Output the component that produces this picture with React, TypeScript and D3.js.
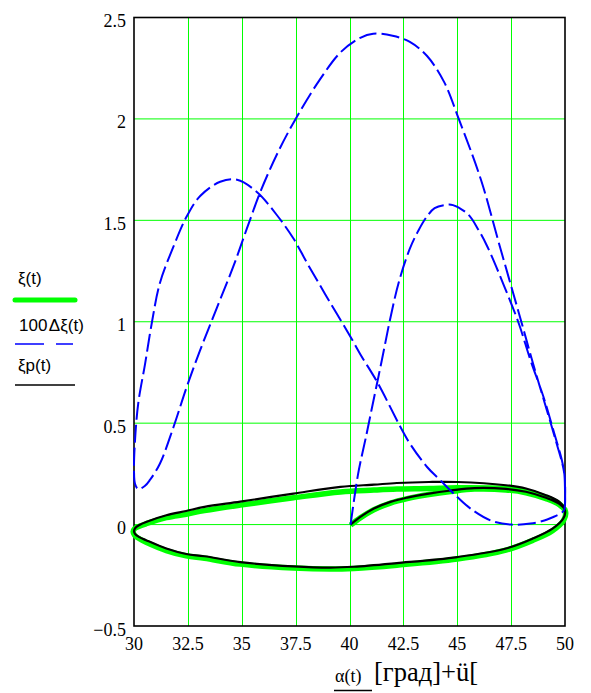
import React, { useRef, useEffect } from 'react';
import * as d3 from 'd3';

// axis ticks
const xTicks = [30, 32.5, 35, 37.5, 40, 42.5, 45, 47.5, 50];
const yTicks = [-0.5, 0, 0.5, 1, 1.5, 2, 2.5];

// ξ(t) against α(t), green
const xiPoints: [number, number][] = [
  [40.05, -0.003], [40.5, 0.033], [41.13, 0.073], [41.9, 0.106], [42.68, 0.128], [43.69, 0.148],
  [44.7, 0.163], [45.8, 0.175], [47.26, 0.171], [48.19, 0.157], [49.12, 0.128], [49.74, 0.098], [50.02, 0.066],
  [49.94, 0.022], [49.42, -0.03], [48.5, -0.078], [47.26, -0.126], [45.0, -0.17], [42.2, -0.2], [40.2, -0.216],
  [39.1, -0.219], [37.4, -0.214], [34.93, -0.195], [33.27, -0.166], [32.42, -0.154], [31.5, -0.128],
  [30.56, -0.087], [30.25, -0.07], [30.03, -0.053], [29.96, -0.035],
  [30.03, -0.02], [30.25, -0.008], [30.56, 0.004], [31.5, 0.034], [32.42, 0.051], [33.27, 0.069], [34.93, 0.096],
  [37.4, 0.132], [39.58, 0.161], [41.13, 0.17], [42.2, 0.175], [43.69, 0.178], [45.0, 0.182], [47.26, 0.178],
  [48.19, 0.165], [49.12, 0.135], [49.74, 0.102], [50.02, 0.07],
];

// ξp(t), black
const xiPPoints: [number, number][] = [
  [40.05, 0.0], [40.5, 0.038], [41.13, 0.079], [41.9, 0.112], [42.68, 0.133], [43.69, 0.153], [44.7, 0.168],
  [45.8, 0.18], [47.26, 0.176], [48.19, 0.162], [49.12, 0.132], [49.74, 0.102], [50.0, 0.07],
  [49.92, 0.03], [49.42, -0.02], [48.5, -0.069], [47.26, -0.118], [45.0, -0.16], [42.2, -0.19], [40.2, -0.208],
  [39.1, -0.212], [37.4, -0.206], [34.93, -0.185], [33.27, -0.156], [32.42, -0.145], [31.5, -0.118],
  [30.56, -0.077], [30.25, -0.062], [30.06, -0.048], [30.0, -0.033],
  [30.06, -0.017], [30.25, -0.002], [30.56, 0.013], [31.5, 0.046], [32.42, 0.067], [33.27, 0.087], [34.93, 0.113],
  [37.4, 0.153], [39.58, 0.186], [41.13, 0.197], [42.2, 0.205], [43.69, 0.21], [45.0, 0.21], [47.26, 0.194],
  [48.19, 0.178], [49.12, 0.145], [49.74, 0.112], [50.0, 0.079],
];

// 100Δξ(t), blue dashed
const dXiPoints: [number, number][] = [
  [40.05, 0.0], [40.4, 0.25], [40.8, 0.45], [41.05, 0.58], [41.5, 0.81], [41.9, 1.02], [42.3, 1.2], [42.8, 1.36],
  [43.2, 1.45], [43.6, 1.52], [43.95, 1.56], [44.4, 1.575], [44.8, 1.575], [45.5, 1.53], [46.0, 1.45], [46.4, 1.37],
  [47.2, 1.17], [47.86, 0.99], [48.4, 0.81], [49.0, 0.63], [49.5, 0.45], [49.85, 0.32], [49.97, 0.25], [50.0, 0.17],
  [50.0, 0.1],
  [49.95, 0.07], [49.8, 0.055], [49.4, 0.035], [49.04, 0.02], [48.4, 0.005], [47.5, 0.0], [46.56, 0.02], [45.6, 0.08],
  [45.0, 0.136], [44.2, 0.22], [43.6, 0.284], [42.8, 0.4], [42.37, 0.48], [41.3, 0.7], [40.5, 0.84], [40.05, 0.925],
  [38.96, 1.12], [38.03, 1.29], [37.4, 1.41], [36.6, 1.53], [35.7, 1.64], [34.78, 1.7], [34.0, 1.69], [33.07, 1.62],
  [32.45, 1.52], [31.83, 1.37], [31.2, 1.19], [30.82, 0.99], [30.51, 0.79], [30.2, 0.6], [30.05, 0.42], [30.0, 0.27],
  [30.05, 0.2], [30.2, 0.175], [30.5, 0.19], [30.74, 0.22], [31.2, 0.3], [31.83, 0.48], [32.45, 0.68], [33.07, 0.86],
  [33.85, 1.07], [34.6, 1.27], [35.24, 1.46], [35.9, 1.65], [36.7, 1.84], [37.5, 2.0], [38.6, 2.19], [39.6, 2.33],
  [40.5, 2.40], [41.1, 2.42], [42.0, 2.41], [42.8, 2.38], [43.6, 2.31], [44.4, 2.18], [45.07, 2.0], [46.1, 1.7],
  [46.98, 1.37], [48.0, 0.99], [48.5, 0.8], [49.0, 0.62], [49.5, 0.44], [49.97, 0.25], [50.0, 0.12],
];

const SERIF = '"Liberation Serif", "Times New Roman", serif';
const SANS = '"Liberation Sans", Arial, sans-serif';

const App = () => {
  const ref = useRef<SVGSVGElement>(null);

  useEffect(() => {
    const svg = d3.select(ref.current);
    svg.selectAll('*').remove();

    const x = d3.scaleLinear().domain([30, 50]).range([134, 565]);
    const y = d3.scaleLinear().domain([-0.5, 2.5]).range([626, 17.5]);

    const g = svg.append('g');

    // grid
    g.selectAll('.vgrid')
      .data(xTicks.slice(1, -1))
      .enter().append('line')
      .attr('x1', d => Math.round(x(d)) + 0.5).attr('x2', d => Math.round(x(d)) + 0.5)
      .attr('y1', y(2.5)).attr('y2', y(-0.5))
      .attr('stroke', '#00ff00').attr('stroke-width', 1);
    g.selectAll('.hgrid')
      .data(yTicks.slice(1, -1))
      .enter().append('line')
      .attr('x1', x(30)).attr('x2', x(50))
      .attr('y1', d => y(d)).attr('y2', d => y(d))
      .attr('stroke', '#00ff00').attr('stroke-width', 1);

    // frame
    g.append('rect')
      .attr('x', x(30)).attr('y', y(2.5))
      .attr('width', x(50) - x(30)).attr('height', y(-0.5) - y(2.5))
      .attr('fill', 'none').attr('stroke', '#000').attr('stroke-width', 1.6);

    // tick labels
    g.selectAll('.xl')
      .data(xTicks)
      .enter().append('text')
      .attr('x', d => x(d)).attr('y', 649.5)
      .attr('text-anchor', 'middle')
      .attr('font-family', SERIF).attr('font-size', 18)
      .text(d => String(d));
    g.selectAll('.yl')
      .data(yTicks)
      .enter().append('text')
      .attr('x', 126).attr('y', d => y(d) + 9.5)
      .attr('text-anchor', 'end')
      .attr('font-family', SERIF).attr('font-size', 18)
      .text(d => (d < 0 ? '\u2212' + String(-d) : String(d)));

    const line = d3.line<[number, number]>()
      .x(d => x(d[0]))
      .y(d => y(d[1]))
      .curve(d3.curveCatmullRom.alpha(0.5));

    g.append('path').datum(xiPoints)
      .attr('d', line).attr('fill', 'none')
      .attr('stroke', '#00ff00').attr('stroke-width', 5.5).attr('stroke-linejoin', 'round');
    g.append('path').datum(xiPPoints)
      .attr('d', line).attr('fill', 'none')
      .attr('stroke', '#000').attr('stroke-width', 2.2).attr('stroke-linejoin', 'round');
    g.append('path').datum(dXiPoints)
      .attr('d', line).attr('fill', 'none')
      .attr('stroke', '#0000ff').attr('stroke-width', 2)
      .attr('stroke-dasharray', '18,5');

    // legend
    const lg = svg.append('g').attr('font-family', SANS).attr('font-size', 17);
    lg.append('text').attr('x', 18).attr('y', 284).text('ξ(t)');
    lg.append('line').attr('x1', 15).attr('x2', 75).attr('y1', 300).attr('y2', 300)
      .attr('stroke', '#00ff00').attr('stroke-width', 5).attr('stroke-linecap', 'round');
    lg.append('text').attr('x', 19).attr('y', 331).text('100\u200aΔξ(t)');
    lg.append('line').attr('x1', 15).attr('x2', 73).attr('y1', 344).attr('y2', 344)
      .attr('stroke', '#0000ff').attr('stroke-width', 1.5).attr('stroke-dasharray', '29,12');
    lg.append('text').attr('x', 18).attr('y', 371).text('ξp(t)');
    lg.append('line').attr('x1', 15).attr('x2', 75).attr('y1', 385).attr('y2', 385)
      .attr('stroke', '#000').attr('stroke-width', 1.5);

    // x axis title
    svg.append('text').attr('x', 335).attr('y', 682)
      .attr('font-family', SERIF).attr('font-size', 18)
      .text('α(t)');
    svg.append('line').attr('x1', 334).attr('x2', 372).attr('y1', 690.5).attr('y2', 690.5)
      .attr('stroke', '#000').attr('stroke-width', 1.3);
    svg.append('text').attr('x', 374).attr('y', 681)
      .attr('font-family', SERIF).attr('font-size', 26.5)
      .text('[град]+ü[');
  }, []);

  return (
    <svg ref={ref} width={591} height={693}
      style={{ position: 'absolute', left: 0, top: 0, background: '#fff' }} />
  );
};

export default App;
